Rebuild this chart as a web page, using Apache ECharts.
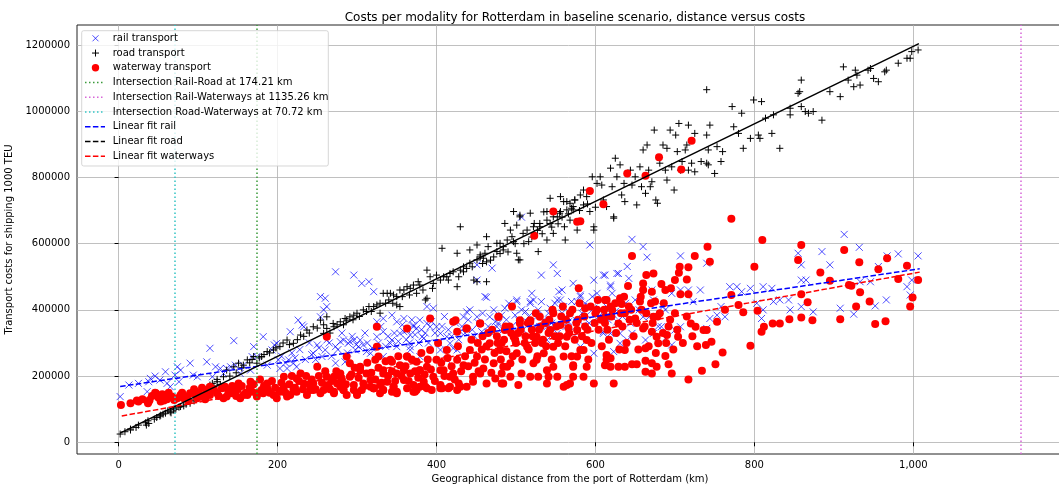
<!DOCTYPE html>
<html><head><meta charset="utf-8">
<script src="https://cdn.jsdelivr.net/npm/echarts@6/dist/echarts.min.js"></script>
<style>html,body{margin:0;padding:0;background:#fff}#c{width:1059px;height:489px}</style>
</head><body><div id="c"></div>
<script>
// ---------------- data (distance km, cost in thousands) ----------------
const COST_UNIT = 1000;
const titleText = 'Costs per modality for Rotterdam in baseline scenario, distance versus costs';
const xAxisTitle = 'Geographical distance from the port of Rotterdam (km)';
const yAxisTitle = 'Transport costs for shipping 1000 TEU';
const xTicks = [0, 200, 400, 600, 800, 1000];
const yTicks = [0, 200000, 400000, 600000, 800000, 1000000, 1200000];
const legendLabels = ['rail transport', 'road transport', 'waterway transport',
  'Intersection Rail-Road at 174.21 km', 'Intersection Rail-Waterways at 1135.26 km',
  'Intersection Road-Waterways at 70.72 km', 'Linear fit rail', 'Linear fit road', 'Linear fit waterways'];
const intersections = [174.21, 1135.26, 70.72]; // rail-road, rail-waterways, road-waterways

const railPoints = [
[2,138],[13,173],[25,178],[36,153],[38,183],[40,193],[46,200],[52,188],[59,213],[61,178],[65,168],[71,203],[74,228],[76,183],[78,218],[90,239],[94,203],[99,198],[111,243],[115,284],[118,198],[122,228],[128,223],[132,208],[136,223],[141,228],[145,307],[147,233],[153,208],[157,233],[166,218],[168,259],[170,289],[174,259],[182,319],[187,233],[193,279],[196,294],[199,299],[201,249],[203,223],[212,223],[214,249],[216,334],[220,239],[224,228],[226,369],[231,354],[233,349],[245,269],[250,294],[254,440],[256,259],[260,279],[262,410],
[273,515],[296,505],[306,480],[315,485],[321,455],[283,309],[279,304],[291,304],[304,309],[308,294],[325,364],[333,374],[344,384],[350,364],[354,329],[359,374],[363,339],[367,324],[371,354],[375,344],[379,369],[384,314],[388,410],[392,349],[396,405],[400,349],[405,329],[413,319],[417,299],[421,284],[430,334],[434,379],[438,394],[442,400],[451,379],[457,334],[461,440],[467,379],[474,364],[476,349],[482,384],[486,405],[493,339],[499,384],[501,425],[507,400],[514,364],[520,450],[518,425],[526,379],[532,505],[532,425],[539,349],[543,405],[547,536],[552,510],[554,455],[556,430],[560,410],[566,364],[568,334],[572,480],[577,425],[581,445],[585,410],[589,384],
[273,239],[285,243],[298,279],[317,269],[333,259],[342,299],[367,279],[379,259],[405,279],[426,279],[413,249],
[260,435],[451,490],[451,536],[470,526],[463,438],[507,680],[593,596],[612,505],[598,490],[627,510],[619,470],[558,460],[570,425],[522,430],[501,430],[518,420],[552,430],[581,440],[602,450],[598,405],[614,410],[623,384],[610,334],[619,329],[598,269],[585,354],[562,379],[547,354],[530,349],[577,329],[552,329],[539,309],[581,289],
[254,379],[258,400],[262,309],[273,289],[289,299],[296,309],[302,289],[312,274],[325,319],[333,334],[344,309],[350,289],[359,334],[371,349],[382,319],[388,359],[367,289],
[610,505],[619,475],[621,450],[629,510],[640,531],[642,495],[646,613],[650,430],[660,591],[665,559],[671,460],[673,430],[675,379],[688,400],[696,450],[707,460],[707,563],[717,460],[723,425],[732,460],[740,541],[740,344],[753,384],[758,410],[763,379],[769,470],[778,470],[784,455],[795,465],[803,420],[809,374],[811,400],[811,470],[822,465],[824,425],[832,430],[843,430],[845,400],[855,571],[859,536],[859,490],[865,490],[859,410],[874,394],[885,576],[895,536],[908,405],[913,628],[925,387],[932,589],[933,485],[946,485],[952,412],[956,531],[966,430],[967,563],[981,569],[992,470],[996,445],[998,490],[1006,563],
[619,390],[627,364],[631,329],[646,329],[660,379],[663,309],[673,329],[683,349],[696,294],[700,339],[707,349],[631,299],[623,274],[640,309],[610,329],[688,314],[744,374],
[205,260],[210,240],[218,270],[222,255],[228,280],[235,250],[240,300],[243,265],[248,250],[252,285],[265,300],[268,260],[276,280],[281,330],[288,270],[294,320],[299,295],[310,330],[313,300],[319,285],[327,300],[330,350],[336,290],[339,320],[347,330],[352,305],[357,355],[362,310],[366,300],[369,370],[373,325],[378,300],[381,340],[386,330],[390,300],[394,365],[398,330],[403,300],[407,350],[410,380],[415,340],[419,320],[424,360],[428,310],[432,350],[436,330],[440,370],[445,340],[448,320],[453,360],[458,390],[465,350],[469,330],[472,400],[478,360],[484,340],[488,370],[491,420],[495,350],[503,370],[509,340],[512,395],[516,380],[524,350],[528,400],[535,370],[541,390],[545,360],[549,420],[558,390],[563,350],[575,370],[583,390],[587,420],[592,360],[596,440],[604,380],[608,400],[616,370],[625,395],[634,380],[638,420],[644,360],[655,400],[668,380],[679,350],[685,410]
];

const roadPoints = [
[2,25],[8,32],[15,37],[22,45],[34,59],[37,65],[35,52],[53,82],[59,88],[65,92],[69,98],[76,106],[82,110],[90,118],[99,133],[107,148],[115,173],[124,183],
[15,40],[25,52],[38,57],[52,79],[66,89],[70,101],[78,108],[90,128],[99,138],[107,158],[113,166],[118,178],[124,190],[132,198],[136,218],[145,228],[151,239],[157,233],[162,249],[170,259],[174,239],[180,259],[187,274],[195,279],[203,289],[212,309],[220,299],[229,324],[237,339],[245,349],[254,369],[262,379],
[271,349],[279,364],[287,369],[291,379],[300,390],[308,400],[315,410],[325,415],[329,420],[340,430],[342,450],[350,440],[354,460],[363,470],[371,475],[377,485],[388,520],[386,430],[354,410],[392,500],[400,505],[405,490],[426,470],[417,510],[430,520],[434,515],[442,541],[451,551],[455,560],[461,571],[463,545],[472,560],[476,576],[484,581],[451,485],[463,485],[501,571],[505,551],[528,576],[350,415],[388,435],[375,450],[333,450],[329,390],
[258,329],[262,344],[270,359],[285,374],[296,384],[321,410],[338,450],[346,445],[359,460],[367,465],[379,475],[396,480],[413,500],[421,515],[426,571],[434,530],[447,490],[459,556],[480,601],[489,611],[495,621],[503,551],[514,641],[522,651],[530,661],[539,671],[547,681],[555,692],[564,702],[572,712],[585,717],[598,641],[623,681],[407,586],[430,651],[486,661],[497,697],[505,686],[539,697],[547,631],[562,611],
[442,581],[451,596],[455,566],[463,621],[465,591],[476,601],[484,591],[493,641],[497,606],[501,656],[505,681],[509,631],[516,606],[518,692],[523,661],[530,651],[535,696],[539,611],[543,661],[543,737],[552,681],[556,742],[561,651],[564,727],[568,671],[570,707],[574,732],[577,641],
[556,697],[560,727],[568,722],[572,702],[574,732],[581,747],[585,762],[589,742],[593,697],[596,802],[598,651],[602,782],[606,802],[608,777],[610,732],[614,712],[619,828],[621,772],[623,677],[625,858],[627,802],[631,838],[633,747],[636,782],[637,727],[644,822],[646,777],[650,802],[652,717],[656,832],[658,772],[660,883],[663,752],[665,898],[667,822],[669,772],[671,787],[674,943],[676,732],[678,722],[681,843],[685,898],[688,822],[690,792],[690,888],[694,943],[696,832],[699,762],[701,928],[703,878],[705,963],[707,822],[709,848],[713,883],[717,958],[715,898],[717,822],[721,843],[725,933],[725,817],[733,848],[740,928],[740,843],[742,883],[744,958],[742,838],[750,812],[753,893],[740,1065],[758,848],[760,878],[772,1014],[774,953],[780,933],[784,994],[786,888],[795,918],[799,1034],[805,928],[807,918],[809,1029],[814,979],[822,933],[824,989],[832,888],[845,989],[845,1009],[855,1054],[857,1059],[859,1094],[859,1014],[864,999],[868,994],[874,999],[885,973],[895,1059],[908,1044],[912,1134],[918,1094],[925,1074],[927,1124],[929,1109],[933,1079],[943,1124],[946,1129],[950,1099],[956,1089],[964,1119],[966,1124],[981,1145],[992,1160],[996,1160],[998,1180],[1006,1185],
[45,70],[48,75],[56,85],[62,95],[72,100],[85,115],[95,125],[103,140],[110,155],[120,170],[128,175],[140,200],[148,210],[155,225],[165,240],[168,250],[177,255],[183,265],[190,270],[198,285],[207,300],[215,295],[225,310],[233,320],[240,330],[250,345],[258,355],[266,330],[275,355],[283,355],[295,370],[303,380],[312,395],[318,395],[336,420],[345,420],[357,440],[366,445],[383,460],[395,465],[409,500],[415,490],[428,500],[438,525],[445,530],[458,540],[468,550],[480,570],[490,575],[499,600],[510,600],[520,620],[527,640],[533,630],[545,650],[553,660],[558,680],[566,690],[580,700],[590,720],[600,710]
];

const waterPoints = [
[3,113],[15,118],[23,126],[37,118],[46,150],[39,128],[53,123],[61,130],[67,138],[74,133],[78,143],[86,138],[94,148],[99,133],[107,138],[115,143],[124,148],[132,133],[134,168],[141,148],[145,158],[153,133],[162,143],[168,153],[174,138],[182,148],[187,163],[195,143],[203,153],[208,168],[216,143],[224,153],[233,178],[237,143],[245,158],[254,148],[262,163],[271,148],[279,168],[287,143],[296,158],[300,143],[306,158],[317,168],[321,163],[329,173],[333,158],[346,168],[350,153],[363,163],[371,153],[388,163],[394,158],[405,173],[417,168],[428,178],
[25,123],[38,123],[47,148],[57,126],[82,133],[90,148],[97,153],[103,138],[111,158],[115,168],[130,163],[136,138],[151,178],[157,143],[166,183],[180,158],[187,178],[199,133],[208,198],[212,138],[220,158],[224,193],[229,208],[241,158],[245,178],[250,228],[258,158],[262,198],[264,173],[262,319],
[271,198],[275,178],[283,158],[287,259],[291,198],[300,148],[304,228],[308,178],[312,208],[321,163],[325,289],[327,259],[333,218],[338,183],[342,249],[346,168],[350,208],[354,233],[359,188],[363,344],[363,259],[367,208],[371,173],[375,158],[375,243],[379,218],[384,183],[388,228],[392,374],[392,279],[396,198],[400,249],[405,163],[409,218],[413,279],[417,198],[421,364],[426,249],[426,334],[430,168],[434,233],[438,344],[442,279],[446,198],[451,259],[455,359],[459,223],[463,178],[467,299],[472,239],[474,193],[478,379],[480,279],[484,178],[486,339],[489,228],[495,410],[497,319],[501,269],[505,359],[507,208],[514,289],[518,364],[522,239],[526,319],[530,379],[535,269],[539,218],[543,339],[547,289],[552,198],[556,354],[560,259],[564,319],[568,178],[572,228],[577,339],[579,465],[581,279],[585,198],[589,309],
[279,198],[296,173],[317,188],[329,148],[350,148],[379,168],[484,228],[493,198],[518,198],[539,178],[560,168],[577,259],[585,279],
[262,168],[271,153],[283,158],[300,148],[321,163],[333,158],[344,153],[373,153],[386,168],[407,163],[415,163],[426,158],[438,168],[446,183],[482,178],[503,173],[528,198],[541,198],[564,173],[572,198],[598,178],[623,178],[325,349],[424,369],[438,344],[455,359],[478,379],[505,369],[518,369],[547,390],[568,390],[587,405],[602,400],[614,430],[612,379],[629,359],[614,249],[619,228],[589,228],[572,233],[547,228],[526,249],[493,239],[482,208],[455,208],[421,208],[405,218],[379,218],[359,218],[333,208],[304,218],[279,208],[291,239],[323,249],[363,259],[344,243],
[593,759],[610,719],[577,666],[581,668],[640,812],[663,805],[680,861],[708,824],[721,911],[771,675],[547,697],[523,624],
[810,611],[859,596],[913,581],[646,563],[741,591],[744,545],[725,563],[706,530],[717,529],[705,512],[673,510],[664,505],[660,480],[700,490],[715,492],[695,465],[688,460],[683,478],[671,455],[641,472],[631,435],[612,430],[619,410],[633,418],[637,390],[642,410],[650,374],[656,425],[660,344],[660,460],[673,379],[675,425],[671,334],[677,319],[679,299],[663,284],[637,279],[614,264],[619,254],[612,233],[629,228],[637,228],[646,236],[652,236],[663,246],[663,213],[671,239],[671,208],[677,228],[688,261],[692,236],[696,208],[690,324],[704,319],[700,390],[707,447],[717,447],[717,190],[720,359],[726,349],[734,216],[736,339],[740,339],[739,294],[746,304],[751,236],[753,364],[760,271],[763,400],[771,445],[780,415],[786,393],[795,292],[800,530],[804,397],[809,334],[812,349],[823,359],[832,359],[844,372],[855,551],[859,447],[859,377],[867,423],[873,369],[883,513],[895,488],[908,372],[919,475],[922,473],[928,410],[932,544],[933,453],[945,425],[952,357],[956,523],[965,366],[967,556],[981,493],[992,533],[996,410],[999,437],[1006,490],
[268,185],[274,215],[281,190],[286,175],[293,205],[297,225],[302,195],[309,170],[313,240],[318,210],[323,190],[327,225],[331,180],[336,245],[339,200],[344,215],[348,185],[352,260],[356,200],[361,230],[365,185],[369,250],[373,215],[377,195],[381,270],[385,205],[389,250],[393,220],[398,185],[402,300],[406,240],[410,200],[414,255],[419,230],[423,190],[427,290],[431,215],[436,260],[440,230],[444,310],[448,240],[453,215],[457,280],[461,250],[465,330],[469,210],[473,270],[477,300],[481,250],[485,310],[488,275],[492,350],[496,260],[500,300],[503,330],[508,250],[512,320],[516,280],[520,340],[524,300],[527,260],[531,350],[534,310],[538,290],[542,370],[545,250],[549,320],[553,300],[557,380],[562,290],[566,345],[570,260],[574,310],[578,370],[583,320],[587,350],[591,250],[595,300],[600,390],[604,340],[608,290],[612,360],[617,310],[621,400],[626,330],[630,280],[634,350],[639,300],[643,370],[648,320],[654,280],[658,400],[662,350],[667,290],[672,360],[676,270],[681,390],[685,330],[689,300],[694,370],[698,280],[703,340],[710,300],[715,380],[722,320],[728,290],
[150,160],[155,170],[160,150],[165,165],[170,175],[175,150],[178,190],[183,170],[190,150],[193,185],[197,165],[205,180],[210,150],[215,175],[218,200],[222,165],[227,185],[232,160],[236,200],[240,175],[243,190],[248,160],[252,200],[256,180],[260,215],[266,160],
[30,130],[42,140],[50,135],[55,145],[63,150],[70,128],[80,150],[88,125],[95,160],[101,150],[105,165],[109,130],[113,150],[120,160],[126,140],[138,155],[143,170],[148,140],
[452,300],[458,320],[463,290],[470,340],[476,320],[482,300],[487,350],[494,330],[499,310],[506,340],[511,300],[515,360],[521,320],[525,390],[529,340],[533,300],[537,360],[541,330],[546,400],[551,350],[555,320],[559,410],[563,370],[567,330],[571,400],[576,360],[580,420],[586,380],[590,340],[594,410],[599,360],[603,430],[607,370],[611,400],[615,340],[620,380],[625,420],[632,390],[636,440],[645,400],[652,360],[657,440],[664,390],[670,420],[678,380],[686,420],[692,350]
];

// linear-fit end points (km, thousands)
const railFit = [[2, 168.6], [1008, 524.1]];
const roadFit = [[2, 27.9], [1007, 1204.1]];
const waterFit = [[4, 79.5], [1008, 514.0]];

// ---------------- chart ----------------
const FONT = 'DejaVu Sans';
const toCost = arr => arr.map(p => [p[0], p[1] * COST_UNIT]);
const X_PATH = 'path://M0,0L10,10M10,0L0,10';
const PLUS_PATH = 'path://M5,0L5,10M0,5L10,5';

const chart = echarts.init(document.getElementById('c'), null, {renderer: 'canvas'});

const vColors = ['#3a9a3a', '#d866d8', '#33c4c4'];

// legend drawn like matplotlib's
const lx0 = 85, lx1 = 105, mx = 95.5, tx = 112.7, ly0 = 38.3, ldy = 14.75;
const legendGraphics = [{
  type: 'rect', z: 100, shape: {x: 81.7, y: 30.7, width: 246.6, height: 135.3, r: 2},
  style: {fill: 'rgba(255,255,255,0.8)', stroke: 'rgba(204,204,204,0.8)', lineWidth: 1}
}];
const legendLineStyles = {
  3: [vColors[0], [1.5, 2.5]], 4: [vColors[1], [1.5, 2.5]], 5: [vColors[2], [1.5, 2.5]],
  6: ['#0000ff', [5.5, 2.4]], 7: ['#000000', [5.5, 2.4]], 8: ['#ff0000', [5.5, 2.4]]
};
legendLabels.forEach((t, i) => {
  const y = ly0 + i * ldy;
  legendGraphics.push({type: 'text', z: 101, style: {text: t, x: tx, y: y, fill: '#000',
    font: '10px "' + FONT + '"', verticalAlign: 'middle', align: 'left'}});
  if (i === 0) {
    legendGraphics.push({type: 'line', z: 101, shape: {x1: mx - 3, y1: y - 3, x2: mx + 3, y2: y + 3}, style: {stroke: 'rgba(0,0,255,0.7)', lineWidth: 1}});
    legendGraphics.push({type: 'line', z: 101, shape: {x1: mx + 3, y1: y - 3, x2: mx - 3, y2: y + 3}, style: {stroke: 'rgba(0,0,255,0.7)', lineWidth: 1}});
  } else if (i === 1) {
    legendGraphics.push({type: 'line', z: 101, shape: {x1: mx - 3.5, y1: y, x2: mx + 3.5, y2: y}, style: {stroke: '#000', lineWidth: 1}});
    legendGraphics.push({type: 'line', z: 101, shape: {x1: mx, y1: y - 3.5, x2: mx, y2: y + 3.5}, style: {stroke: '#000', lineWidth: 1}});
  } else if (i === 2) {
    legendGraphics.push({type: 'circle', z: 101, shape: {cx: mx, cy: y, r: 3.7}, style: {fill: '#ff0000'}});
  } else {
    const s = legendLineStyles[i];
    legendGraphics.push({type: 'line', z: 101, shape: {x1: lx0, y1: y, x2: lx1, y2: y},
      style: {stroke: s[0], lineWidth: 1.5, lineDash: s[1]}});
  }
});

const option = {
  animation: false,
  backgroundColor: '#fff',
  textStyle: {fontFamily: FONT},
  title: {text: titleText, left: 570, top: 7, textAlign: 'center',
    textStyle: {fontFamily: FONT, fontSize: 12, fontWeight: 'normal', color: '#000'}},
  grid: {left: 77, right: -4, top: 25, bottom: 35, show: true, borderColor: '#222', borderWidth: 1,
    backgroundColor: '#fff', outerBoundsMode: 'none', containLabel: false},
  xAxis: {
    type: 'value', min: -52.3, max: 1188.3,
    name: xAxisTitle, nameLocation: 'middle', nameGap: 20,
    nameTextStyle: {fontFamily: FONT, fontSize: 10, color: '#000'},
    axisLine: {show: false},
    axisTick: {show: true, length: 4, customValues: xTicks, lineStyle: {color: '#000', width: 1}},
    axisLabel: {customValues: xTicks, fontFamily: FONT, fontSize: 10, color: '#000', margin: 6},
    splitLine: {show: true, lineStyle: {color: '#b0b0b0', width: 0.8}}
  },
  yAxis: {
    type: 'value', min: -35300, max: 1260400,
    name: yAxisTitle, nameLocation: 'middle', nameGap: 55, nameRotate: 90,
    nameTextStyle: {fontFamily: FONT, fontSize: 10, color: '#000'},
    axisLine: {show: false},
    axisTick: {show: true, length: 4, customValues: yTicks, lineStyle: {color: '#000', width: 1}},
    axisLabel: {customValues: yTicks, fontFamily: FONT, fontSize: 10, color: '#000', margin: 7,
      formatter: v => String(v)},
    splitLine: {show: true, lineStyle: {color: '#b0b0b0', width: 0.8}}
  },
  graphic: legendGraphics,
  series: [
    {name: legendLabels[0], type: 'scatter', z: 2, silent: true, data: toCost(railPoints),
      symbol: X_PATH, symbolSize: 7,
      itemStyle: {color: 'rgba(0,0,0,0)', borderColor: 'rgba(0,0,255,0.7)', borderWidth: 1, opacity: 1}},
    {name: legendLabels[1], type: 'scatter', z: 3, silent: true, data: toCost(roadPoints),
      symbol: PLUS_PATH, symbolSize: 7,
      itemStyle: {color: 'rgba(0,0,0,0)', borderColor: '#000', borderWidth: 1, opacity: 1}},
    {name: legendLabels[2], type: 'scatter', z: 4, silent: true, data: toCost(waterPoints),
      symbol: 'circle', symbolSize: 8, itemStyle: {color: '#ff0000', opacity: 1}},
    {name: 'intersections', type: 'line', z: 5, silent: true, data: [],
      markLine: {silent: true, symbol: 'none', z: 5, label: {show: false},
        data: intersections.map((v, i) => ({xAxis: v, lineStyle: {color: vColors[i], width: 1.5, type: [1.5, 2.5]}}))}},
    {name: legendLabels[6], type: 'line', z: 6, silent: true, data: toCost(railFit), symbol: 'none',
      lineStyle: {color: '#0000ff', width: 1.5, type: [5.5, 2.4]}},
    {name: legendLabels[7], type: 'line', z: 6, silent: true, data: toCost(roadFit), symbol: 'none',
      lineStyle: {color: '#000000', width: 1.5}},
    {name: legendLabels[8], type: 'line', z: 6, silent: true, data: toCost(waterFit), symbol: 'none',
      lineStyle: {color: '#ff0000', width: 1.5, type: [5.5, 2.4]}}
  ]
};
chart.setOption(option);
</script>
</body></html>
